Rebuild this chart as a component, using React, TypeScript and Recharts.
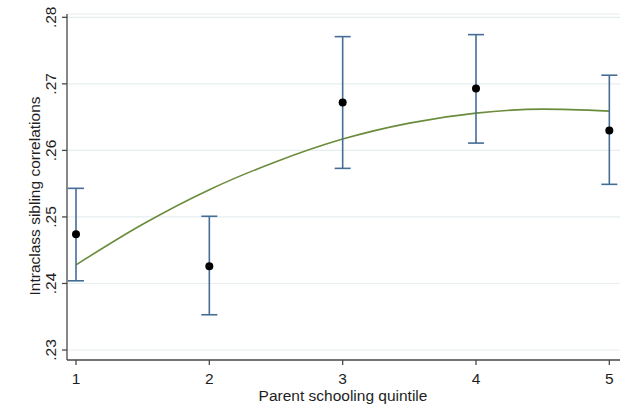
import React from 'react';
import { ComposedChart, Line, Scatter, ErrorBar, XAxis, YAxis, CartesianGrid } from 'recharts';

// quintile estimates with 95% CI
const quintiles = [1, 2, 3, 4, 5];
const estimates = [0.2474, 0.2426, 0.2672, 0.2693, 0.263];
const ciLow = [0.2404, 0.2353, 0.2573, 0.2611, 0.2549];
const ciHigh = [0.2543, 0.2501, 0.2771, 0.2774, 0.2713];

// fitted curve
const fitX = [1, 1.5, 2, 2.5, 3, 3.5, 4, 4.5, 5];
const fitY = [0.2428, 0.2489, 0.2541, 0.2583, 0.2617, 0.2641, 0.2656, 0.2662, 0.2659];

const yTicks = [0.23, 0.24, 0.25, 0.26, 0.27, 0.28];

const points = quintiles.map((q, i) => ({
  x: q,
  y: estimates[i],
  err: [estimates[i] - ciLow[i], ciHigh[i] - estimates[i]],
}));
const fit = fitX.map((x, i) => ({ x, fit: fitY[i] }));

const FONT = '"Liberation Sans", Arial, sans-serif';
const TEXT = '#1e1e1e';
const FS = 15.5;

const YTick = (props: any) => {
  const { y, payload } = props;
  return (
    <text
      transform={`translate(56,${y}) rotate(-90)`}
      textAnchor="middle"
      fontSize={FS}
      fontFamily={FONT}
      fill={TEXT}
    >
      {String(payload.value.toFixed(2)).replace(/^0/, '')}
    </text>
  );
};

const XTick = (props: any) => {
  const { x, payload } = props;
  return (
    <text x={x} y={384} textAnchor="middle" fontSize={FS} fontFamily={FONT} fill={TEXT}>
      {payload.value}
    </text>
  );
};

const Dot = (props: any) => <circle cx={props.cx} cy={props.cy} r={4} fill="#000" />;

export default function App() {
  return (
    <div style={{ position: 'absolute', left: 0, top: 0, background: '#fff' }}>
      <ComposedChart width={622} height={417} margin={{ top: 14, right: 2, bottom: 27, left: 0 }}>
        <CartesianGrid vertical={false} stroke="#e6eef0" strokeWidth={1.2} />
        <XAxis
          type="number"
          dataKey="x"
          height={30}
          domain={[0.9325, 5.08]}
          ticks={quintiles}
          allowDataOverflow
          stroke="#484848"
          strokeWidth={1.3}
          tickSize={5}
          tick={<XTick />}
          label={{
            content: () => (
              <text x={343} y={401} textAnchor="middle" fontSize={FS} fontFamily={FONT} fill={TEXT}>
                Parent schooling quintile
              </text>
            ),
          }}
        />
        <YAxis
          type="number"
          width={67}
          domain={[0.2285, 0.2805]}
          ticks={yTicks}
          allowDataOverflow
          stroke="#484848"
          strokeWidth={1.3}
          tickSize={5}
          tick={<YTick />}
          label={{
            content: () => (
              <text
                transform="translate(40,196) rotate(-90)"
                textAnchor="middle"
                fontSize={FS}
                fontFamily={FONT}
                fill={TEXT}
              >
                Intraclass sibling correlations
              </text>
            ),
          }}
        />
        <Line
          data={fit}
          dataKey="fit"
          type="monotone"
          stroke="#6a8c3c"
          strokeWidth={1.6}
          dot={false}
          isAnimationActive={false}
        />
        <Scatter data={points} dataKey="y" shape={<Dot />} isAnimationActive={false}>
          <ErrorBar dataKey="err" direction="y" width={8} stroke="#456d96" strokeWidth={1.6} />
        </Scatter>
      </ComposedChart>
    </div>
  );
}
